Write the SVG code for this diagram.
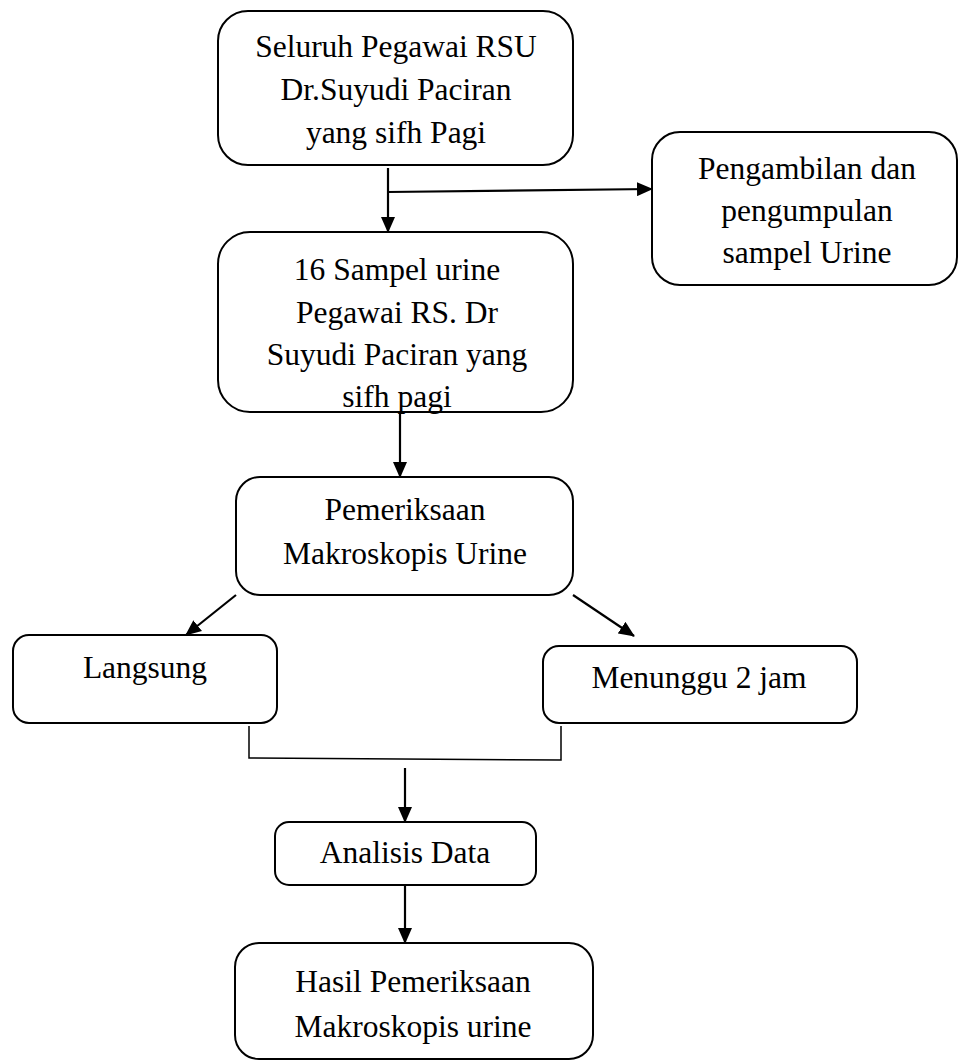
<svg xmlns="http://www.w3.org/2000/svg" width="959" height="1061" viewBox="0 0 959 1061">
<style>
.box{fill:#fff;stroke:#000;stroke-width:2}
.t{font-family:"Liberation Serif","Times New Roman",serif;font-size:31.5px;fill:#000;text-anchor:middle}
.c{fill:none;stroke:#000;stroke-width:2.2}
.c1{fill:none;stroke:#000;stroke-width:1.5}
</style>
<defs>
<marker id="ahb" markerWidth="16" markerHeight="14" refX="15" refY="7" orient="auto" markerUnits="userSpaceOnUse" viewBox="0 0 16 14">
<path d="M0,0 L16,7 L0,14 z" fill="#000"/>
</marker>
</defs>
<g id="connectors">
<line class="c" x1="388" y1="168" x2="388" y2="232" marker-end="url(#ahb)"/>
<line class="c" x1="388" y1="192" x2="652" y2="189" marker-end="url(#ahb)"/>
<line class="c" x1="400" y1="412" x2="400" y2="477" marker-end="url(#ahb)"/>
<line class="c" x1="236" y1="595" x2="186" y2="635" marker-end="url(#ahb)"/>
<line class="c" x1="573" y1="595" x2="634" y2="636" marker-end="url(#ahb)"/>
<polyline class="c1" points="249,726 249,758 561,760 561,726"/>
<line class="c" x1="405" y1="768" x2="405" y2="822" marker-end="url(#ahb)"/>
<line class="c" x1="405" y1="885" x2="405" y2="943" marker-end="url(#ahb)"/>
</g>
<g id="n1">
<rect class="box" x="218" y="11" width="355" height="154" rx="30"/>
<text class="t" x="396" y="57">Seluruh Pegawai RSU</text>
<text class="t" x="396" y="100">Dr.Suyudi Paciran</text>
<text class="t" x="396" y="143">yang sifh Pagi</text>
</g>
<g id="n2">
<rect class="box" x="652" y="132" width="305" height="153" rx="28"/>
<text class="t" x="807" y="179">Pengambilan dan</text>
<text class="t" x="807" y="221">pengumpulan</text>
<text class="t" x="807" y="263">sampel Urine</text>
</g>
<g id="n3">
<rect class="box" x="218" y="232" width="355" height="180" rx="32"/>
<text class="t" x="397" y="280">16 Sampel urine</text>
<text class="t" x="397" y="323">Pegawai RS. Dr</text>
<text class="t" x="397" y="365">Suyudi Paciran yang</text>
<text class="t" x="397" y="407">sifh pagi</text>
</g>
<g id="n4">
<rect class="box" x="236" y="477" width="337" height="118" rx="24"/>
<text class="t" x="405" y="520">Pemeriksaan</text>
<text class="t" x="405" y="564">Makroskopis Urine</text>
</g>
<g id="n5">
<rect class="box" x="13" y="635" width="264" height="88" rx="16"/>
<text class="t" x="145" y="678">Langsung</text>
</g>
<g id="n6">
<rect class="box" x="543" y="646" width="314" height="77" rx="16"/>
<text class="t" x="699" y="688">Menunggu 2 jam</text>
</g>
<g id="n7">
<rect class="box" x="275" y="822" width="261" height="63" rx="14"/>
<text class="t" x="405" y="863">Analisis Data</text>
</g>
<g id="n8">
<rect class="box" x="235" y="943" width="358" height="116" rx="24"/>
<text class="t" x="413" y="992">Hasil Pemeriksaan</text>
<text class="t" x="413" y="1037">Makroskopis urine</text>
</g>
</svg>
